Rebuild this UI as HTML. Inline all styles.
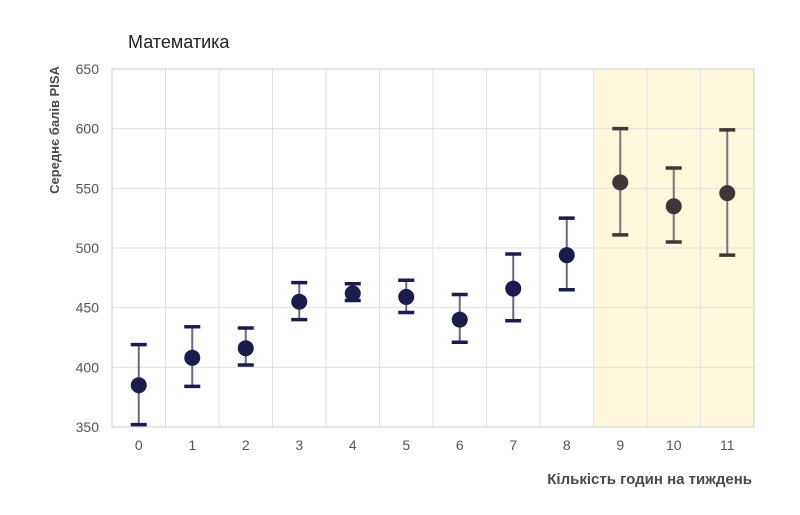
<!DOCTYPE html>
<html><head><meta charset="utf-8">
<style>
body{margin:0;background:#fff;}
svg{display:block;font-family:"Liberation Sans",sans-serif;}
</style></head>
<body>
<svg id="chart" width="800" height="515"></svg>
<script>
const categories=["0","1","2","3","4","5","6","7","8","9","10","11"];
const means=[385,408,416,455,462,459,440,466,494,555,535,546];
const lows=[352,384,402,440,456,446,421,439,465,511,505,494];
const highs=[419,434,433,471,470,473,461,495,525,600,567,599];
const yTicks=[350,400,450,500,550,600,650];
const highlighted=[9,10,11];

const NS="http://www.w3.org/2000/svg";
const svg=document.getElementById('chart');
const L=112,R=754,T=69,B=427;
const bw=(R-L)/categories.length;
const x=i=>L+bw*(i+0.5);
const y=v=>B-(v-350)/300*(B-T);
function mk(tag,attrs,parent){const e=document.createElementNS(NS,tag);for(const k in attrs)e.setAttribute(k,attrs[k]);(parent||svg).appendChild(e);return e;}

const hb=mk('rect',{x:L+bw*highlighted[0],y:T,width:bw*highlighted.length,height:B-T,fill:'#fdf7dc'});



yTicks.forEach(v=>{
  const g=mk('line',{x1:L,x2:R,y1:y(v),y2:y(v),stroke:'#e2e2e2','stroke-width':1});
  
  
  const t=mk('text',{x:L-13,y:y(v)+5,'text-anchor':'end','font-size':14,fill:'#555'});
  t.textContent=v;
  
  
});
for(let i=0;i<=categories.length;i++){
  const g=mk('line',{x1:L+bw*i,x2:L+bw*i,y1:T,y2:B,stroke:'#e2e2e2','stroke-width':1});
  
  
}
const ax=mk('rect',{x:L,y:T,width:R-L,height:B-T,fill:'none',stroke:'#cfcfcf','stroke-width':1});



categories.forEach((c,i)=>{
  const t=mk('text',{x:x(i),y:450,'text-anchor':'middle','font-size':14,fill:'#555'});
  t.textContent=c;
  
  
  const hl=highlighted.includes(i);
  const col=hl?'#3e3737':'#1b1b4d';
  const lc=hl?'#777':'#6a6a80';
  const g=mk('g',{});
  
  
  mk('line',{x1:x(i),x2:x(i),y1:y(highs[i]),y2:y(lows[i]),stroke:lc,'stroke-width':2},g);
  mk('line',{x1:x(i)-8,x2:x(i)+8,y1:y(highs[i]),y2:y(highs[i]),stroke:col,'stroke-width':3.5},g);
  mk('line',{x1:x(i)-8,x2:x(i)+8,y1:y(lows[i]),y2:y(lows[i]),stroke:col,'stroke-width':3.5},g);
  mk('circle',{cx:x(i),cy:y(means[i]),r:8,fill:col},g);
});

const title=mk('text',{x:128,y:48,'font-size':18,fill:'#222'});
title.textContent='Математика';


const yt=mk('text',{x:0,y:0,'font-size':13,'font-weight':'bold',fill:'#4a4a4a','text-anchor':'middle',transform:'translate(59,130) rotate(-90)'});
yt.textContent='Середнє балів PISA';


const xt=mk('text',{x:752,y:484,'font-size':15,'font-weight':'bold',fill:'#4a4a4a','text-anchor':'end'});
xt.textContent='Кількість годин на тиждень';


</script>
</body></html>
